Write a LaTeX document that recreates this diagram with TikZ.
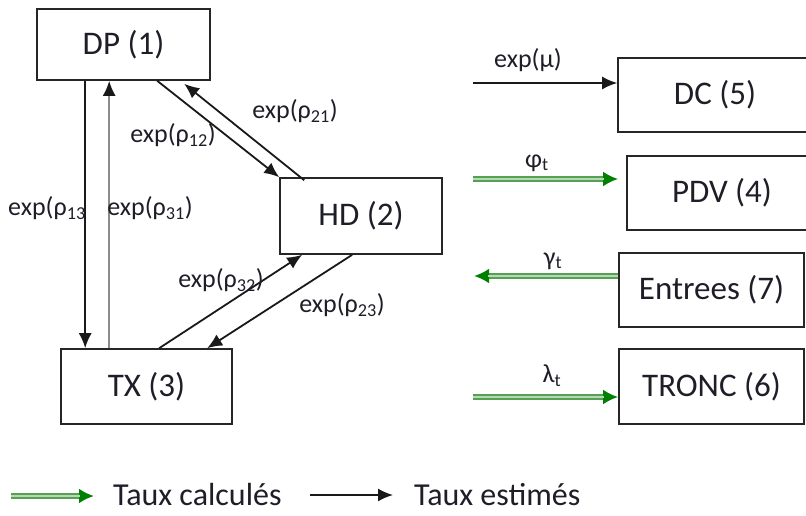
\documentclass[tikz,border=0pt]{standalone}
\usepackage{fontspec}
\setmainfont{Carlito}
\usetikzlibrary{arrows.meta}
\definecolor{gline}{RGB}{85,160,85}
\definecolor{ginner}{RGB}{180,218,180}
\definecolor{ghead}{RGB}{0,128,0}
\definecolor{txt}{RGB}{30,30,40}
\tikzset{
  box/.style={draw=black!85, line width=1.6pt, minimum width=#1, inner sep=0pt, font=\fontsize{33}{36}\selectfont, text=txt},
  lbl/.style={font=\fontsize{26}{28}\selectfont, text=txt, inner sep=0pt},
  bk/.style={draw=black!90, line width=1.8pt, -{Latex[length=15pt,width=13pt]}},
  gy/.style={draw=black!45, line width=2pt, -{Latex[length=15pt,width=13pt,color=black!90]}},
  gr/.style={draw=gline, line width=6pt, -{Latex[length=15pt,width=15pt,color=ghead]},
     postaction={draw=ginner, line width=2pt, shorten >=14pt, -}},
  leg/.style={font=\fontsize{32}{35}\selectfont, text=txt, inner sep=0pt, anchor=west}
}
\begin{document}
\begin{tikzpicture}[x=1pt,y=-1pt]
\useasboundingbox (0,0) rectangle (806,516);
% boxes
\node[box=173pt, minimum height=71pt] (dp) at (123.5,44.5) {DP (1)};
\node[box=162pt, minimum height=76pt] (hd) at (361,216) {HD (2)};
\node[box=171pt, minimum height=75pt] (tx) at (146.5,386.5) {TX (3)};
\node[box=194pt, minimum height=74pt] (dc) at (715,95) {DC (5)};
\node[box=190pt, minimum height=74pt] (pdv) at (722,193) {PDV (4)};
\node[box=185pt, minimum height=74pt] (ent) at (711.5,290) {Entrees (7)};
\node[box=185pt, minimum height=75pt] (tr) at (711.5,386.5) {TRONC (6)};
% left arrows
\draw[bk] ([xshift=49pt]dp.south west) -- ([xshift=25pt]tx.north west);
\draw[gy] ([xshift=49pt]tx.north west) -- ([xshift=73pt]dp.south west);
\draw[bk] ([xshift=121pt]dp.south west) -- (hd.north west);
\draw[bk] ([xshift=25pt,yshift=-3pt]hd.north west) -- ([xshift=148pt,yshift=-3pt]dp.south west);
\draw[bk] ([xshift=99pt]tx.north west) -- ([xshift=23pt]hd.south west);
\draw[bk] ([xshift=73pt]hd.south west) -- ([xshift=147pt]tx.north west);
% labels
\node[lbl] (l12) at (173,135) {exp(ρ\textsubscript{12})};
\node[lbl] (l21) at (295,111) {exp(ρ\textsubscript{21})};
\node[lbl, anchor=west] (l13) at (8,208) {exp(ρ\textsubscript{13}};
\node[lbl] (l31) at (150,208) {exp(ρ\textsubscript{31})};
\node[lbl] (l32) at (221,280) {exp(ρ\textsubscript{32})};
\node[lbl] (l23) at (342,305) {exp(ρ\textsubscript{23})};
% right arrows
\coordinate (m0) at (473,83);
\draw[bk] (m0) -- ([yshift=12pt]dc.west);
\node[lbl] (lmu) at (528,60) {exp(μ)};
\coordinate (f0) at (473,179);
\draw[gr] (f0) -- ([xshift=-8pt,yshift=14pt]pdv.west);
\node[lbl] (lphi) at (537,163) {φ\textsubscript{t}};
\coordinate (g0) at (474,276);
\draw[gr] ([yshift=14pt]ent.west) -- (g0);
\node[lbl] (lgam) at (553,261) {γ\textsubscript{t}};
\coordinate (k0) at (473,397);
\draw[gr] (k0) -- ([yshift=-10.5pt]tr.west);
\node[lbl] (llam) at (552,376) {λ\textsubscript{t}};
% legend
\coordinate (a0) at (11,496);
\coordinate (a1) at (94,496);
\draw[gr] (a0) -- (a1);
\node[leg] (t1) at (113,495) {Taux calculés};
\coordinate (b0) at (310,495);
\coordinate (b1) at (393,495);
\draw[bk] (b0) -- (b1);
\node[leg] (t2) at (414,495) {Taux estimés};
\end{tikzpicture}
\end{document}
